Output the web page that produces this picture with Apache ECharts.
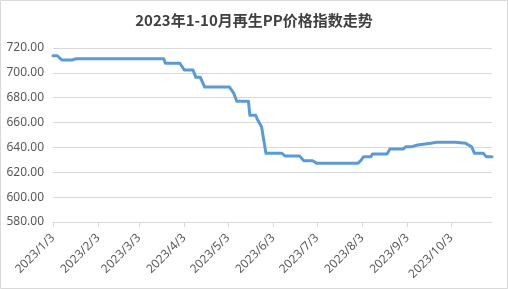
<!DOCTYPE html>
<html>
<head>
<meta charset="utf-8">
<script src="https://cdn.jsdelivr.net/npm/echarts@6/dist/echarts.min.js"></script>
<style>
html,body{margin:0;padding:0;background:#fff;}
#c{width:508px;height:289px;}
</style>
</head>
<body>
<div id="c"></div>
<script>
var titleText = '2023年1-10月再生PP价格指数走势';
var startDate = '2023/1/3';
var endDate = '2023/10/31';
var pointDates = ['2023/1/3','2023/1/6','2023/1/9','2023/1/16','2023/1/19','2023/3/20','2023/3/21','2023/3/31','2023/4/3','2023/4/9','2023/4/11','2023/4/14','2023/4/17','2023/5/4','2023/5/7','2023/5/9','2023/5/17','2023/5/18','2023/5/22','2023/5/23','2023/5/26','2023/5/29','2023/6/9','2023/6/11','2023/6/21','2023/6/24','2023/6/30','2023/7/3','2023/7/31','2023/8/2','2023/8/4','2023/8/9','2023/8/10','2023/8/20','2023/8/22','2023/8/31','2023/9/2','2023/9/6','2023/9/10','2023/9/19','2023/9/23','2023/10/6','2023/10/13','2023/10/17','2023/10/19','2023/10/25','2023/10/27','2023/10/31'];
var pointValues = [713.8,713.8,710.3,710.3,711.4,711.4,707.7,707.7,702.3,702.3,696.4,696.4,688.6,688.6,683.5,677.1,677.1,665.9,665.9,662.9,656.7,635.3,635.3,633.1,633.1,629.3,629.3,627.2,627.2,629.3,632.6,632.6,634.7,634.7,638.7,638.7,640.6,640.6,642.0,643.3,644.1,644.1,643.3,640.6,635.3,635.3,632.6,632.6];
var yTicks = [580,600,620,640,660,680,700,720];

// build the daily category axis between the first and last date
function parseD(s){var p=s.split('/');return Date.UTC(+p[0],+p[1]-1,+p[2]);}
function fmt(t){var d=new Date(t);return d.getUTCFullYear()+'/'+(d.getUTCMonth()+1)+'/'+d.getUTCDate();}
var categories = [];
for (var t=parseD(startDate); t<=parseD(endDate); t+=86400000) categories.push(fmt(t));
var seriesData = pointDates.map(function(d,i){return [d, pointValues[i]];});
function isThird(idx, val){ return /\/3$/.test(val) && !/\/\d3$/.test(val); }

var chart = echarts.init(document.getElementById('c'), null, {renderer:'canvas'});
chart.setOption({
  animation:false,
  backgroundColor:'#ffffff',
  title:{
    text:titleText, left:'center', top:8,
    textStyle:{fontFamily:'Noto Sans CJK SC', fontSize:15, fontWeight:'bold', color:'#404040'}
  },
  graphic:[{type:'rect', shape:{x:0.5,y:0.5,width:507,height:288}, style:{fill:'none', stroke:'#D9D9D9', lineWidth:1}, silent:true}],
  grid:{left:53, right:16, top:48, bottom:67},
  xAxis:{
    type:'category', data:categories, boundaryGap:false,
    axisLine:{lineStyle:{color:'#D9D9D9'}},
    axisTick:{interval:isThird, length:5, lineStyle:{color:'#D9D9D9'}},
    axisLabel:{interval:isThird, rotate:45, fontFamily:'Noto Sans', fontSize:12, color:'#595959', margin:14, padding:[8,0,0,0]},
    splitLine:{show:false}
  },
  yAxis:{
    type:'value', min:yTicks[0], max:yTicks[yTicks.length-1], interval:20,
    axisLine:{show:false}, axisTick:{show:false},
    axisLabel:{formatter:function(v){return v.toFixed(2);}, fontFamily:'Noto Sans', fontSize:12, color:'#595959', margin:9},
    splitLine:{lineStyle:{color:'#D9D9D9'}}
  },
  series:[{
    type:'line', data:seriesData, showSymbol:false, symbol:'none',
    lineStyle:{color:'#5B9BD5', width:3, cap:'round', join:'round'}
  }]
});
</script>
</body>
</html>
